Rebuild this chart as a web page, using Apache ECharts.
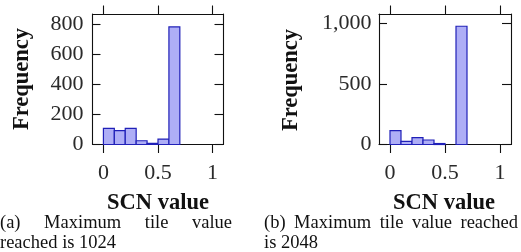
<!DOCTYPE html>
<html><head><meta charset="utf-8">
<script src="https://cdn.jsdelivr.net/npm/echarts@6/dist/echarts.min.js"></script>
<style>html,body{margin:0;padding:0;background:#fff}#c{width:521px;height:252px}</style>
</head><body><div id="c"></div>
<script>
// ---- data ----
const binEdges = [0, 0.1, 0.2, 0.3, 0.4, 0.5, 0.6, 0.7];
const countsA = [107, 92, 107, 25, 8, 36, 780];
const countsB = [114, 26, 57, 37, 8, 0, 977];
const xTicks = [0, 0.5, 1];
const yTicksA = [0, 200, 400, 600, 800];
const yTicksB = [0, 500, 1000];
const xLabel = 'SCN value';
const yLabel = 'Frequency';
const captionA = ['(a) Maximum tile value', 'reached is 1024'];
const captionB = ['(b) Maximum tile value reached', 'is 2048'];

// ---- style / layout ----
const FONT = '"Liberation Serif", "Times New Roman", serif';
const FILL = '#aeaef6', STROKE = '#2020b8';
const grids = [
  { left: 92.5, top: 14, width: 131, height: 130.5, ymax: 866, yTicks: yTicksA, counts: countsA, labMargin: 9 },
  { left: 379, top: 14, width: 132, height: 130.5, ymax: 1078, yTicks: yTicksB, counts: countsB, labMargin: 7.5 }
];

function binData(counts) {
  return counts.map((c, i) => [binEdges[i], binEdges[i + 1], c]);
}
const fmt = v => Number(v).toLocaleString('en-US');

const xAxis = [], yAxis = [], series = [], gridOpt = [];
grids.forEach((g, gi) => {
  gridOpt.push({ left: g.left, top: g.top, width: g.width, height: g.height, show: false });
  const lineStyle = { color: '#111', width: 1.1 };
  xAxis.push({
    type: 'value', gridIndex: gi, position: 'bottom', min: -0.1, max: 1.1,
    axisLine: { show: true, onZero: false, lineStyle },
    axisTick: { show: true, inside: false, length: 8.5, customValues: xTicks, lineStyle },
    axisLabel: { show: true, customValues: xTicks, margin: 18, color: '#2a2a2a', fontFamily: FONT, fontSize: 22, formatter: fmt },
    splitLine: { show: false }
  });
  xAxis.push({
    type: 'value', gridIndex: gi, position: 'top', min: -0.1, max: 1.1,
    axisLine: { show: true, onZero: false, lineStyle },
    axisTick: { show: true, inside: false, length: 8.5, customValues: xTicks, lineStyle },
    axisLabel: { show: false },
    splitLine: { show: false }
  });
  yAxis.push({
    type: 'value', gridIndex: gi, position: 'left', min: 0, max: g.ymax,
    axisLine: { show: true, onZero: false, lineStyle },
    axisTick: { show: true, inside: true, length: 8, customValues: g.yTicks, lineStyle },
    axisLabel: { show: true, customValues: g.yTicks, margin: g.labMargin, color: '#2a2a2a', fontFamily: FONT, fontSize: 22, formatter: fmt },
    splitLine: { show: false }
  });
  yAxis.push({
    type: 'value', gridIndex: gi, position: 'right', min: 0, max: g.ymax,
    axisLine: { show: true, onZero: false, lineStyle },
    axisTick: { show: true, inside: true, length: 9, customValues: g.yTicks, lineStyle },
    axisLabel: { show: false },
    splitLine: { show: false }
  });
  series.push({
    type: 'custom', xAxisIndex: gi * 2, yAxisIndex: gi * 2,
    data: binData(g.counts),
    renderItem: function (params, api) {
      const c = api.value(2);
      if (!c) return null;
      const p0 = api.coord([api.value(0), 0]);
      const p1 = api.coord([api.value(1), c]);
      return {
        type: 'rect',
        shape: { x: p0[0], y: p1[1], width: p1[0] - p0[0], height: p0[1] - p1[1] },
        style: { fill: FILL, stroke: STROKE, lineWidth: 1.2 }
      };
    }
  });
});

// ---- texts ----
const graphic = [];
function addText(text, x, y, opts) {
  graphic.push(Object.assign({
    type: 'text', x, y,
    style: { text, fill: '#111', font: opts.font, align: opts.align || 'left', verticalAlign: 'middle' }
  }, opts.rotation ? { rotation: opts.rotation } : {}));
}
const labelFont = 'bold 22.5px ' + FONT;
addText(yLabel, 22.5, 79, { font: labelFont, align: 'center', rotation: Math.PI / 2 });
addText(yLabel, 291, 80, { font: labelFont, align: 'center', rotation: Math.PI / 2 });
addText(xLabel, 158, 203, { font: labelFont, align: 'center' });
addText(xLabel, 444, 203, { font: labelFont, align: 'center' });

const capFont = '18.5px ' + FONT;
const ctx = document.createElement('canvas').getContext('2d');
ctx.font = capFont;
function justified(line, x0, x1, y) {
  const words = line.split(' ');
  const ws = words.map(w => ctx.measureText(w).width);
  const total = ws.reduce((a, b) => a + b, 0);
  const gap = (x1 - x0 - total) / (words.length - 1);
  let x = x0;
  words.forEach((w, i) => { addText(w, x, y, { font: capFont }); x += ws[i] + gap; });
}
justified(captionA[0], 0, 232, 223);
addText(captionA[1], 0, 243, { font: capFont });
justified(captionB[0], 264, 518, 223);
addText(captionB[1], 264, 243, { font: capFont });

const chart = echarts.init(document.getElementById('c'), null, { renderer: 'canvas' });
chart.setOption({
  animation: false,
  backgroundColor: '#fff',
  grid: gridOpt, xAxis, yAxis, series, graphic
});
</script></body></html>
